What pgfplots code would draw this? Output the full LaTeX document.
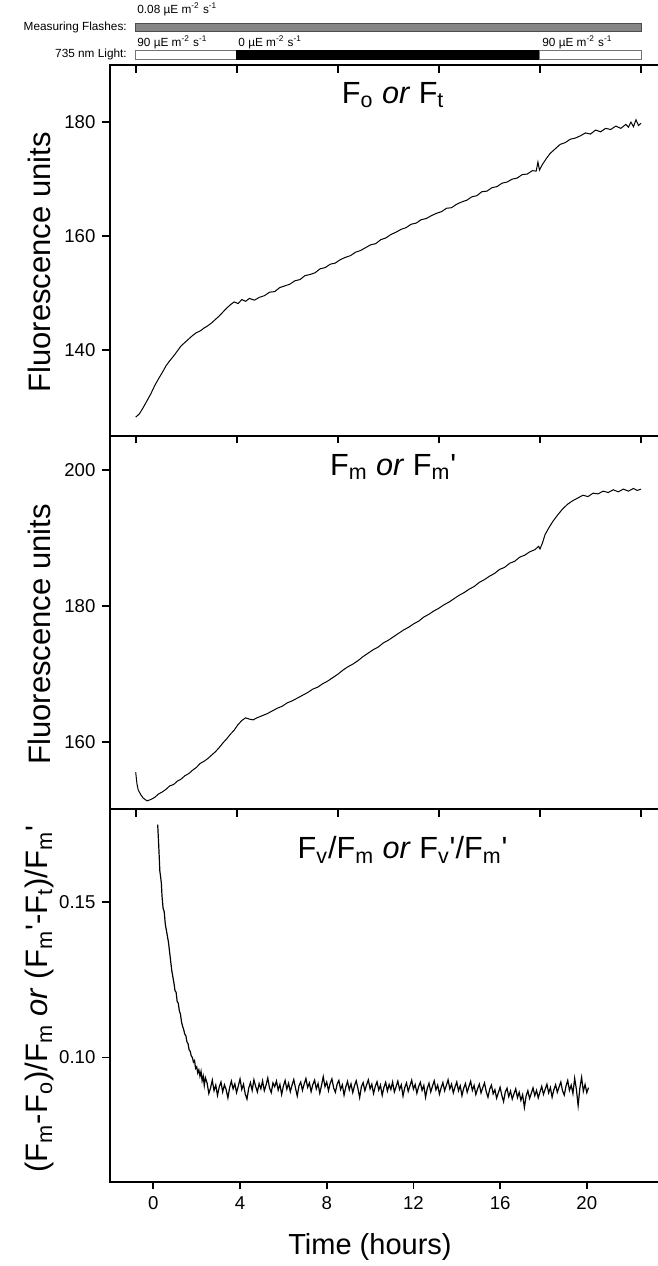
\documentclass[border=0pt]{standalone}
\usepackage{fontspec}
\setmainfont{Liberation Sans}
\usepackage{pgfplots}
\pgfplotsset{compat=1.18}

\newcommand{\pr}{\textquotesingle}
\pgfplotsset{
  panel/.style={
    scale only axis, width=276pt,
    tick align=outside, major tick length=3.75pt,
    tick style={black, line width=0.9pt},
    axis line style={line width=0.9pt},
    ytick pos=left, xtick pos=left,
    /pgf/number format/assume math mode=true,
    tick label style={font=\fontsize{9.3}{10}\selectfont},
    every axis y label/.style={at={(axis description cs:-0.127,0.468)}, rotate=90,
      anchor=center, font=\fontsize{15.5}{17}\selectfont},
  },
  trace/.style={black, line width=0.5pt, mark=none},
}
\tikzset{
  ptitle/.style={font=\fontsize{15.3}{17}\selectfont, anchor=center},
  lighttext/.style={font=\fontsize{5.9}{7}\selectfont, inner sep=0pt},
}

\begin{document}
\begin{tikzpicture}
\path[use as bounding box] (0pt,0pt) rectangle (329pt,-633pt);

% light regime bars
\begin{axis}[scale only axis, width=276pt, height=32.5pt,
  at={(55pt,-32.5pt)}, anchor=south west,
  xmin=-1.017, xmax=20.83, ymin=0, ymax=65,
  axis x line*=bottom, hide y axis,
  every non boxed x axis/.append style={x axis line style=-},
  axis line style={-, line width=0.9pt},
  tick align=outside, major tick length=3.75pt,
  tick style={black, line width=0.9pt},
  xtick={0,4,...,20}, xticklabel=\empty, clip=false]
\addplot[fill=black!48, draw=black!70, line width=0.5pt, mark=none]
  coordinates {(0,34) (20,34) (20,42) (0,42)} -- cycle;
\addplot[fill=white, draw=black!55, line width=0.5pt, mark=none]
  coordinates {(0,6) (4,6) (4,14.5) (0,14.5)} -- cycle;
\addplot[fill=black, draw=black, line width=0.5pt, mark=none]
  coordinates {(4,6) (16,6) (16,14.5) (4,14.5)} -- cycle;
\addplot[fill=white, draw=black!55, line width=0.5pt, mark=none]
  coordinates {(16,6) (20,6) (20,14.5) (16,14.5)} -- cycle;
\node[lighttext, anchor=west] at (axis cs:0.05,56) {0.08 µE m\textsuperscript{-2} s\textsuperscript{-1}};
\node[lighttext, anchor=east] at (axis cs:-0.34,38) {Measuring Flashes:};
\node[lighttext, anchor=west] at (axis cs:0.05,23) {90 µE m\textsuperscript{-2} s\textsuperscript{-1}};
\node[lighttext, anchor=west] at (axis cs:4.05,23) {0 µE m\textsuperscript{-2} s\textsuperscript{-1}};
\node[lighttext, anchor=west] at (axis cs:16.08,23) {90 µE m\textsuperscript{-2} s\textsuperscript{-1}};
\node[lighttext, anchor=east] at (axis cs:-0.34,10.5) {735 nm Light:};
\end{axis}

% Fo or Ft
\begin{axis}[panel, at={(55pt,-32.5pt)}, anchor=north west, height=185.5pt,
  xmin=-1.017, xmax=20.83, ymin=125, ymax=190,
  xtick={0,4,...,20}, xticklabel=\empty, ytick={140,160,180},
  ylabel={Fluorescence units}]
\addplot[trace] coordinates {
(0.00,128.3) (0.15,128.9) (0.30,130.0) (0.45,131.2) (0.60,132.4) (0.75,133.8)
(0.90,135.0) (1.05,136.1) (1.20,137.3) (1.35,138.2) (1.50,139.0) (1.65,139.9)
(1.80,140.8) (1.95,141.4) (2.10,142.0) (2.25,142.6) (2.40,143.1) (2.55,143.4)
(2.70,143.9) (2.85,144.3) (3.00,144.8) (3.15,145.4) (3.30,146.0) (3.45,146.7)
(3.60,147.4) (3.75,148.0) (3.90,148.5) (4.05,148.2) (4.20,148.9) (4.35,148.6)
(4.50,149.1) (4.70,148.8) (4.90,149.3) (5.10,149.6) (5.30,150.2) (5.50,150.3)
(5.70,151.0) (5.90,151.3) (6.10,151.6) (6.30,152.2) (6.50,152.4) (6.70,153.1)
(6.90,153.3) (7.10,153.6) (7.30,154.3) (7.50,154.5) (7.70,155.1) (7.90,155.3)
(8.10,155.9) (8.30,156.3) (8.50,156.6) (8.70,157.2) (8.90,157.5) (9.10,158.0)
(9.30,158.5) (9.50,158.7) (9.70,159.4) (9.90,159.7) (10.10,160.3) (10.30,160.7)
(10.50,161.2) (10.70,161.5) (10.90,162.1) (11.10,162.3) (11.30,162.9) (11.50,163.1)
(11.70,163.6) (11.90,164.0) (12.10,164.3) (12.30,164.9) (12.50,165.0) (12.70,165.6)
(12.90,166.0) (13.10,166.3) (13.30,166.9) (13.50,167.1) (13.70,167.8) (13.90,167.9)
(14.10,168.5) (14.30,168.7) (14.50,169.3) (14.70,169.5) (14.90,170.0) (15.10,170.2)
(15.30,170.8) (15.50,170.9) (15.70,171.5) (15.85,171.4) (15.92,173.0) (15.98,171.6)
(16.10,172.6) (16.25,173.6) (16.40,174.5) (16.60,175.3) (16.80,176.1) (17.00,176.4)
(17.20,177.0) (17.40,177.2) (17.60,177.6) (17.80,178.1) (18.00,177.9) (18.20,178.6)
(18.40,178.3) (18.60,178.9) (18.80,178.7) (19.00,179.3) (19.20,178.9) (19.40,179.6)
(19.50,179.1) (19.60,180.0) (19.70,179.2) (19.80,180.4) (19.90,179.4) (20.00,179.8)
};
\node[ptitle] at (rel axis cs:0.513,0.919) {F\textsubscript{o} \textit{or} F\textsubscript{t}};
\end{axis}

% Fm or Fm'
\begin{axis}[panel, at={(55pt,-218pt)}, anchor=north west, height=186.5pt,
  xmin=-1.017, xmax=20.83, ymin=150.2, ymax=205,
  xtick={0,4,...,20}, xticklabel=\empty, ytick={160,180,200},
  ylabel={Fluorescence units}]
\addplot[trace] coordinates {
(0.00,155.6) (0.05,153.9) (0.10,153.0) (0.20,152.3) (0.30,151.8) (0.45,151.4)
(0.60,151.6) (0.75,151.9) (0.90,152.4) (1.05,152.7) (1.20,153.1) (1.35,153.6)
(1.50,153.8) (1.65,154.3) (1.80,154.6) (1.95,155.1) (2.10,155.4) (2.25,155.9)
(2.40,156.3) (2.55,156.9) (2.70,157.2) (2.85,157.6) (3.00,158.1) (3.15,158.6)
(3.30,159.2) (3.45,159.9) (3.60,160.5) (3.75,161.2) (3.90,161.8) (4.05,162.6)
(4.20,163.2) (4.35,163.6) (4.50,163.4) (4.65,163.3) (4.80,163.6) (5.00,163.9)
(5.20,164.2) (5.40,164.6) (5.60,165.0) (5.80,165.3) (6.00,165.8) (6.20,166.1)
(6.40,166.5) (6.60,166.9) (6.80,167.3) (7.00,167.8) (7.20,168.1) (7.40,168.6)
(7.60,169.0) (7.80,169.5) (8.00,170.0) (8.20,170.6) (8.40,171.1) (8.60,171.5)
(8.80,172.0) (9.00,172.6) (9.20,173.1) (9.40,173.6) (9.60,174.0) (9.80,174.6)
(10.00,175.0) (10.20,175.5) (10.40,176.0) (10.60,176.5) (10.80,176.9) (11.00,177.4)
(11.20,177.8) (11.40,178.4) (11.60,178.8) (11.80,179.3) (12.00,179.7) (12.20,180.2)
(12.40,180.6) (12.60,181.1) (12.80,181.6) (13.00,182.0) (13.20,182.5) (13.40,182.9)
(13.60,183.5) (13.80,183.9) (14.00,184.4) (14.20,184.8) (14.40,185.4) (14.60,185.7)
(14.80,186.3) (15.00,186.6) (15.20,187.2) (15.40,187.5) (15.60,188.0) (15.80,188.3)
(15.95,188.8) (16.00,188.4) (16.10,189.3) (16.20,190.5) (16.35,191.5) (16.50,192.4)
(16.70,193.4) (16.90,194.3) (17.10,195.0) (17.30,195.5) (17.50,195.9) (17.70,196.3)
(17.90,196.1) (18.10,196.6) (18.30,196.5) (18.50,196.9) (18.70,196.7) (18.90,197.1)
(19.10,196.8) (19.30,197.2) (19.50,196.9) (19.70,197.3) (19.85,197.0) (20.00,197.2)
};
\node[ptitle] at (rel axis cs:0.513,0.917) {F\textsubscript{m} \textit{or} F\textsubscript{m}\pr};
\end{axis}

% Fv/Fm or Fv'/Fm'
\begin{axis}[panel, at={(55pt,-404.5pt)}, anchor=north west, height=186.35pt,
  xmin=-2, xmax=23.47, ymin=0.06, ymax=0.18,
  xtick={0,4,...,20}, ytick={0.10,0.15}, scaled y ticks=false,
  yticklabel style={/pgf/number format/fixed, /pgf/number format/precision=2,
    /pgf/number format/fixed zerofill},
  every axis y label/.append style={at={(axis description cs:-0.127,0.49)}},
  ylabel={(F\textsubscript{m}-F\textsubscript{o})/F\textsubscript{m} \textit{or} (F\textsubscript{m}\pr-F\textsubscript{t})/F\textsubscript{m}\pr},
  xlabel={Time (hours)},
  every axis x label/.style={at={(axis description cs:0.471,-0.175)}, anchor=center,
    font=\fontsize{14.5}{16}\selectfont}]
\addplot[trace, line width=0.6pt] coordinates {
(0.20,0.175) (0.25,0.168) (0.30,0.160) (0.33,0.1585) (0.37,0.156) (0.40,0.152)
(0.45,0.148) (0.50,0.147) (0.55,0.143) (0.60,0.141) (0.65,0.139) (0.70,0.137)
(0.75,0.134) (0.80,0.131) (0.85,0.128) (0.90,0.126) (0.95,0.124) (1.00,0.1215)
(1.05,0.121) (1.10,0.118) (1.15,0.1175) (1.20,0.115) (1.25,0.114) (1.30,0.1115)
(1.35,0.110) (1.40,0.109) (1.45,0.1075) (1.50,0.107) (1.55,0.105) (1.60,0.1045)
(1.65,0.1025) (1.70,0.102) (1.75,0.1005) (1.80,0.100) (1.85,0.0985) (1.90,0.099)
(1.95,0.0965) (2.00,0.097) (2.05,0.095) (2.10,0.096) (2.15,0.094) (2.20,0.0955)
(2.25,0.0925) (2.30,0.094) (2.35,0.091) (2.40,0.0935)
(2.48,0.0918) (2.56,0.0884) (2.64,0.0902) (2.72,0.0927) (2.80,0.0893) (2.88,0.0911)
(2.96,0.0878) (3.04,0.0905) (3.12,0.0921) (3.20,0.0889) (3.28,0.0912) (3.36,0.0896)
(3.44,0.0870) (3.52,0.0903) (3.60,0.0924) (3.68,0.0899) (3.76,0.0915) (3.84,0.0887)
(3.92,0.0908) (4.00,0.0931) (4.08,0.0897) (4.16,0.0914) (4.24,0.0882) (4.32,0.0866)
(4.40,0.0901) (4.48,0.0919) (4.56,0.0894) (4.64,0.0928) (4.72,0.0907) (4.80,0.0889)
(4.88,0.0916) (4.96,0.0899)
(5.04,0.0925) (5.12,0.0893) (5.20,0.0911) (5.28,0.0934) (5.36,0.0902) (5.44,0.0887)
(5.52,0.0918) (5.60,0.0906) (5.68,0.0924) (5.76,0.0895) (5.84,0.0913) (5.92,0.0881)
(6.00,0.0908) (6.08,0.0926) (6.16,0.0898) (6.24,0.0917) (6.32,0.0890) (6.40,0.0911)
(6.48,0.0929) (6.56,0.0901) (6.64,0.0876) (6.72,0.0909) (6.80,0.0921) (6.88,0.0894)
(6.96,0.0915) (7.04,0.0932) (7.12,0.0904) (7.20,0.0918) (7.28,0.0890) (7.36,0.0913)
(7.44,0.0927) (7.52,0.0899) (7.60,0.0916) (7.68,0.0885) (7.76,0.0910) (7.84,0.0938)
(7.92,0.0906) (8.00,0.0921)
(8.08,0.0893) (8.16,0.0917) (8.24,0.0931) (8.32,0.0902) (8.40,0.0888) (8.48,0.0914)
(8.56,0.0926) (8.64,0.0897) (8.72,0.0912) (8.80,0.0879) (8.88,0.0905) (8.96,0.0923)
(9.04,0.0896) (9.12,0.0915) (9.20,0.0887) (9.28,0.0909) (9.36,0.0925) (9.44,0.0900)
(9.52,0.0871) (9.60,0.0906) (9.68,0.0919) (9.76,0.0893) (9.84,0.0912) (9.92,0.0928)
(10.00,0.0899) (10.08,0.0914) (10.16,0.0884) (10.24,0.0907) (10.32,0.0922) (10.40,0.0895)
(10.48,0.0911) (10.56,0.0878) (10.64,0.0904) (10.72,0.0920) (10.80,0.0892) (10.88,0.0913)
(10.96,0.0897)
(11.04,0.0921) (11.12,0.0889) (11.20,0.0906) (11.28,0.0924) (11.36,0.0897) (11.44,0.0912)
(11.52,0.0876) (11.60,0.0903) (11.68,0.0918) (11.76,0.0891) (11.84,0.0909) (11.92,0.0927)
(12.00,0.0898) (12.08,0.0913) (12.16,0.0885) (12.24,0.0906) (12.32,0.0920) (12.40,0.0894)
(12.48,0.0910) (12.56,0.0872) (12.64,0.0901) (12.72,0.0917) (12.80,0.0889) (12.88,0.0908)
(12.96,0.0925) (13.04,0.0896) (13.12,0.0911) (13.20,0.0882) (13.28,0.0903) (13.36,0.0919)
(13.44,0.0893) (13.52,0.0910) (13.60,0.0928) (13.68,0.0899) (13.76,0.0914) (13.84,0.0886)
(13.92,0.0905)
(14.00,0.0921) (14.08,0.0893) (14.16,0.0909) (14.24,0.0877) (14.32,0.0901) (14.40,0.0916)
(14.48,0.0888) (14.56,0.0906) (14.64,0.0923) (14.72,0.0894) (14.80,0.0910) (14.88,0.0881)
(14.96,0.0899) (15.04,0.0914) (15.12,0.0886) (15.20,0.0903) (15.28,0.0918) (15.36,0.0890)
(15.44,0.0872) (15.52,0.0898) (15.60,0.0911) (15.68,0.0883)
(15.76,0.0896) (15.84,0.0869) (15.92,0.0887) (16.00,0.0904) (16.08,0.0878) (16.16,0.0858)
(16.24,0.0889) (16.32,0.0901) (16.40,0.0874) (16.48,0.0892) (16.56,0.0866) (16.64,0.0883)
(16.72,0.0899) (16.80,0.0871) (16.88,0.0888) (16.96,0.0862) (17.04,0.0880) (17.12,0.0839)
(17.20,0.0876) (17.28,0.0893) (17.36,0.0868) (17.44,0.0885) (17.52,0.0902) (17.60,0.0877)
(17.68,0.0894) (17.76,0.0870)
(17.84,0.0889) (17.92,0.0907) (18.00,0.0881) (18.08,0.0898) (18.16,0.0914) (18.24,0.0886)
(18.32,0.0903) (18.40,0.0872) (18.48,0.0896) (18.56,0.0912) (18.64,0.0888) (18.72,0.0905)
(18.80,0.0921) (18.88,0.0893) (18.96,0.0879) (19.04,0.0908) (19.12,0.0926) (19.20,0.0894)
(19.28,0.0911) (19.36,0.0884) (19.44,0.0933) (19.52,0.0897) (19.60,0.0845) (19.68,0.0902)
(19.76,0.0936) (19.84,0.0891) (19.92,0.0913) (20.00,0.0887) (20.08,0.0903)
};
\node[ptitle] at (rel axis cs:0.53,0.89) {F\textsubscript{v}/F\textsubscript{m} \textit{or} F\textsubscript{v}\pr/F\textsubscript{m}\pr};
\end{axis}
\end{tikzpicture}
\end{document}
